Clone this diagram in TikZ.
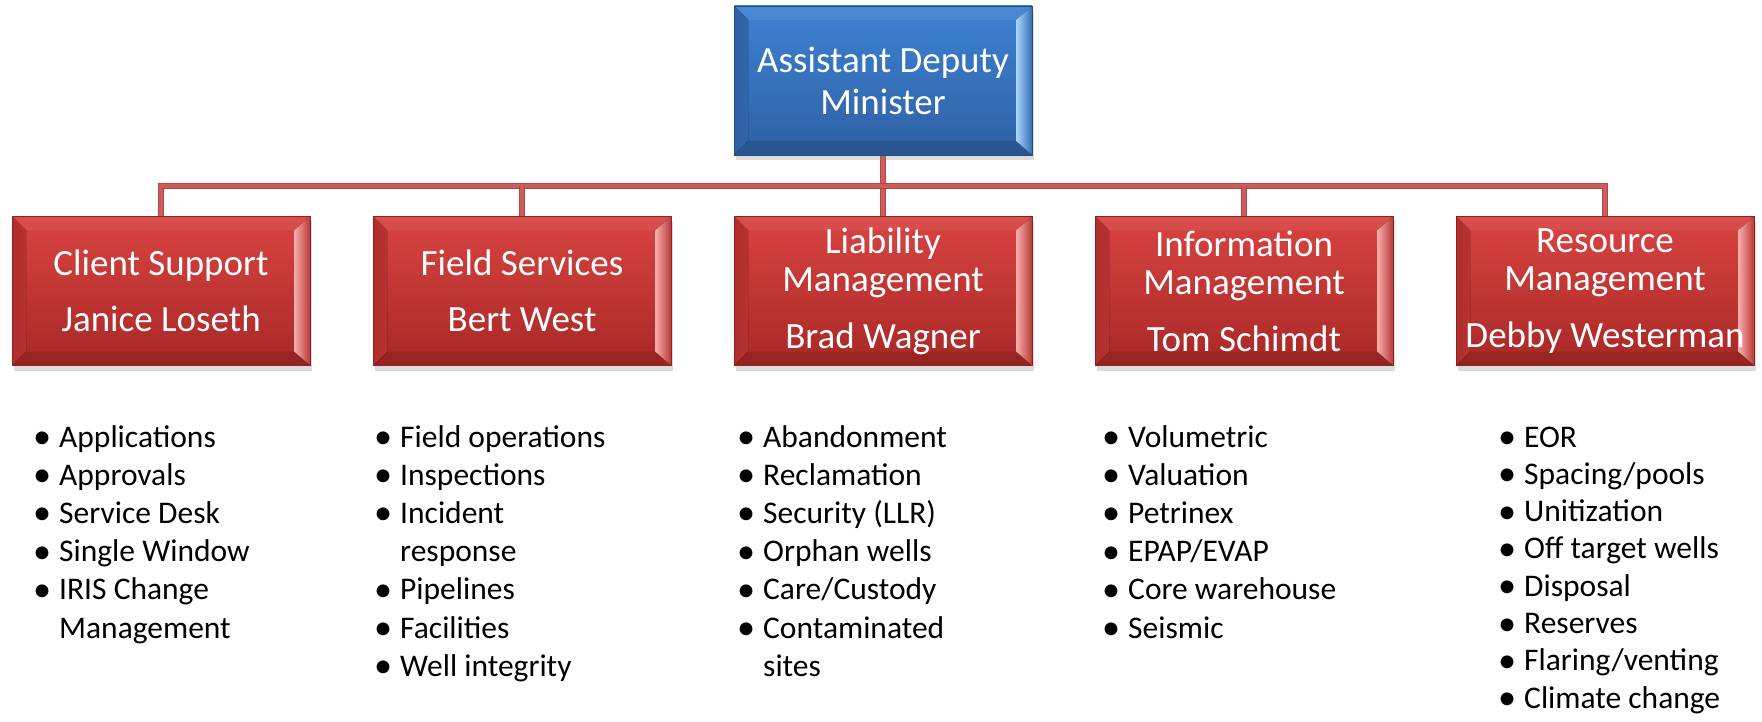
\documentclass[tikz,border=0pt]{standalone}
\usepackage{fontspec}
\setmainfont{Carlito}
\usetikzlibrary{shadows}
\pgfdeclarelayer{background}
\pgfsetlayers{background,main}
\definecolor{rtop}{RGB}{216,68,66}
\definecolor{rbot}{RGB}{168,40,38}
\definecolor{rdark}{RGB}{140,35,33}
\definecolor{rhiL}{RGB}{246,150,148}
\definecolor{rhiR}{RGB}{250,175,172}
\definecolor{btop}{RGB}{62,130,210}
\definecolor{bbot}{RGB}{46,96,165}
\definecolor{bdark}{RGB}{40,75,125}
\definecolor{bhiL}{RGB}{150,205,250}
\definecolor{bhiR}{RGB}{170,215,252}
\definecolor{connout}{RGB}{178,70,68}
\definecolor{connin}{RGB}{206,92,90}
\newcommand\bevelpic[4]{%
  \fill[left color=#1,right color=#2]
    (path picture bounding box.north west)
    -- ([shift={(14pt,-14pt)}]path picture bounding box.north west)
    -- ([shift={(14pt,14pt)}]path picture bounding box.south west)
    -- (path picture bounding box.south west) -- cycle;
  \fill[left color=#3,right color=#4]
    (path picture bounding box.north east)
    -- ([shift={(-16pt,-14pt)}]path picture bounding box.north east)
    -- ([shift={(-16pt,14pt)}]path picture bounding box.south east)
    -- (path picture bounding box.south east) -- cycle;
  \fill[black,opacity=.12]
    (path picture bounding box.south west)
    -- ([shift={(14pt,14pt)}]path picture bounding box.south west)
    -- ([shift={(-16pt,14pt)}]path picture bounding box.south east)
    -- (path picture bounding box.south east) -- cycle;
  \fill[white,opacity=.06]
    (path picture bounding box.north west)
    -- ([shift={(14pt,-14pt)}]path picture bounding box.north west)
    -- ([shift={(-16pt,-14pt)}]path picture bounding box.north east)
    -- (path picture bounding box.north east) -- cycle;
}
\newcommand\bul{\makebox[26pt][l]{\raisebox{-1.5pt}{\scalebox{1.15}{•}}}}
\begin{document}
\begin{tikzpicture}[x=1pt,y=-1pt,
  boxbase/.style={minimum width=298pt, minimum height=149pt, inner sep=0pt,
    align=center, text=white, line width=0.6pt,
    drop shadow={opacity=0.28, shadow xshift=2pt, shadow yshift=-5pt}},
  redbox/.style={boxbase, top color=rtop, bottom color=rbot, draw=rdark,
    font=\fontsize{37}{38}\selectfont,
    path picture={\bevelpic{rbot!80!rtop}{rhiL}{rhiR}{rtop!85!black}}},
  bluebox/.style={boxbase, top color=btop, bottom color=bbot, draw=bdark,
    font=\fontsize{37}{42}\selectfont,
    path picture={\bevelpic{bbot}{bhiL}{bhiR}{btop!85!black}}},
  conn/.style={draw=connout, line width=1.4pt, double=connin, double distance=3.6pt},
  listtxt/.style={inner sep=0pt, anchor=base west, text=black,
    font=\fontsize{31.5}{38.2}\selectfont},
  listtxtb/.style={listtxt, font=\fontsize{31.5}{37.3}\selectfont}
]
\useasboundingbox (0,0) rectangle (1762,722);

\node[bluebox] (adm) at (883,80.5) {Assistant Deputy\\Minister};

\node[redbox] (cs) at (161,291) {Client Support\\[18pt]Janice Loseth};
\node[redbox] (fs) at (522,291) {Field Services\\[18pt]Bert West};
\node[redbox] (lm) at (883,291) {Liability\\Management\\[19pt]Brad Wagner};
\node[redbox] (im) at (1244,291) {Information\\Management\\[19pt]Tom Schimdt};
\node[redbox] (rm) at (1605,291) {Resource\\Management\\[19pt]Debby Westerman};

\coordinate (bus) at (883,186);
\begin{pgfonlayer}{background}
\draw[conn] (adm.south) -- (lm.north);
\draw[conn] (cs.north) -- (cs.north |- bus) -- (rm.north |- bus) -- (rm.north);
\draw[conn] (fs.north) -- (fs.north |- bus);
\draw[conn] (im.north) -- (im.north |- bus);
\end{pgfonlayer}

\node[listtxt] (l1) at (33,447) {\begin{tabular}[t]{@{}l@{}l@{}}
\bul & Applications\\
\bul & Approvals\\
\bul & Service Desk\\
\bul & Single Window\\
\bul & IRIS Change\\
 & Management
\end{tabular}};

\node[listtxt] (l2) at (374,447) {\begin{tabular}[t]{@{}l@{}l@{}}
\bul & Field operations\\
\bul & Inspections\\
\bul & Incident\\
 & response\\
\bul & Pipelines\\
\bul & Facilities\\
\bul & Well integrity
\end{tabular}};

\node[listtxt] (l3) at (737,447) {\begin{tabular}[t]{@{}l@{}l@{}}
\bul & Abandonment\\
\bul & Reclamation\\
\bul & Security (LLR)\\
\bul & Orphan wells\\
\bul & Care/Custody\\
\bul & Contaminated\\
 & sites
\end{tabular}};

\node[listtxt] (l4) at (1102,447) {\begin{tabular}[t]{@{}l@{}l@{}}
\bul & Volumetric\\
\bul & Valuation\\
\bul & Petrinex\\
\bul & EPAP/EVAP\\
\bul & Core warehouse\\
\bul & Seismic
\end{tabular}};

\node[listtxtb] (l5) at (1498,447) {\begin{tabular}[t]{@{}l@{}l@{}}
\bul & EOR\\
\bul & Spacing/pools\\
\bul & Unitization\\
\bul & Off target wells\\
\bul & Disposal\\
\bul & Reserves\\
\bul & Flaring/venting\\
\bul & Climate change
\end{tabular}};
\end{tikzpicture}
\end{document}
